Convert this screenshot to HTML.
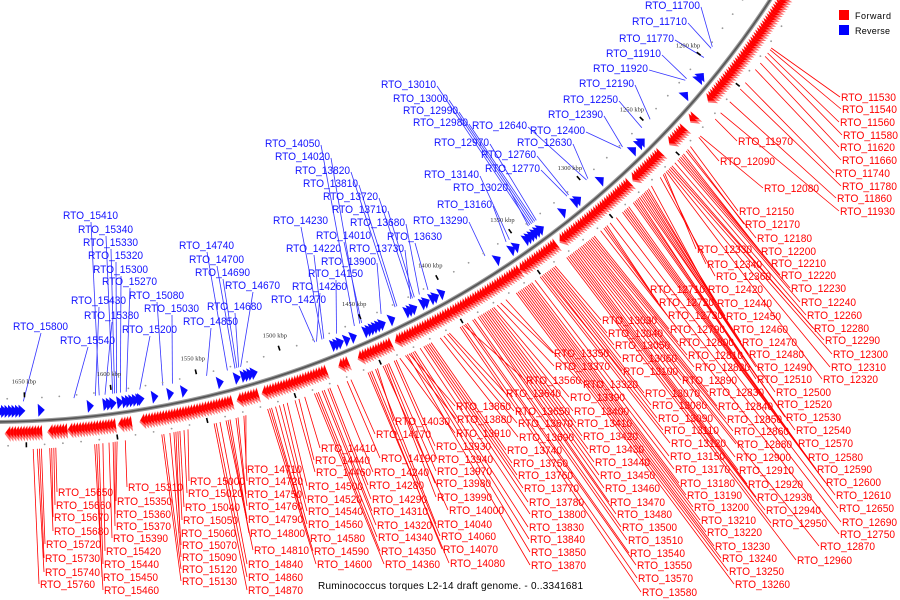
<!DOCTYPE html>
<html><head><meta charset="utf-8"><title>Ruminococcus torques genome map</title>
<style>
html,body{margin:0;padding:0;background:#fff;}
svg{display:block;}
</style></head>
<body>
<svg id="map" xmlns="http://www.w3.org/2000/svg" width="900" height="600" viewBox="0 0 900 600">
  <rect x="0" y="0" width="900" height="600" fill="#fff"/>
  <g id="leaders"></g>
  <g id="dots"></g>
  <g id="genes"></g>
  <g id="backbone"></g>
  <g id="labels"></g>
  <g>
    <rect x="839" y="10" width="10" height="10" fill="#f00"/>
    <text x="855" y="19" font-family="Liberation Sans, sans-serif" font-size="9" textLength="36" fill="#000">Forward</text>
    <rect x="839" y="25" width="10" height="10" fill="#00f"/>
    <text x="855" y="34" font-family="Liberation Sans, sans-serif" font-size="9" textLength="35" fill="#000">Reverse</text>
  </g>
  <text x="318" y="589" font-family="Liberation Sans, sans-serif" font-size="10" textLength="265" fill="#000">Ruminococcus torques L2-14 draft genome. - 0..3341681</text>
</svg>
<script>
// ---- data ----
const forwardBlocks = [[1141,1215],[1228,1230],[1237,1248],[1256,1276],[1280,1329],[1333,1356],[1358,1402],[1403,1436],[1440,1458],[1466,1470],[1479,1515],[1519,1530],[1534,1585],[1591,1597],[1600,1625],[1627,1636],[1641,1660]];
const reverseGenes = [1664,1662,1660,1658,1656,1654,1652,1641,1613,1604,1602,1600,1596,1593,1591,1589,1587,1585,1584,1576,1567,1559,1538,1528,1524,1522,1520,1518,1470,1468,1466,1462,1458,1450,1448,1446,1444,1442,1440,1434,1424,1422,1420,1414,1412,1408,1406,1402,1365,1355,1352,1345,1343,1341,1339,1337,1335,1319,1310,1308,1291,1266,1261,1259,1223,1211,1209];
const tickKbp = [1200,1250,1300,1350,1400,1450,1500,1550,1600,1650];
const tickLabels = ["1200 kbp","1250 kbp","1300 kbp","1350 kbp","1400 kbp","1450 kbp","1500 kbp","1550 kbp","1600 kbp","1650 kbp"];
const redLabelText = "11530 841 97;11540 842 109;11560 840 122;11580 843 135;11620 840 147;11660 842 160;11740 835 173;11780 842 186;11860 837 198;11930 840 211;11970 738 141;12090 720 161;12080 764 188;12150 739 211;12170 745 224;12180 757 238;12200 761 251;12210 771 263;12220 781 275;12230 791 288;12240 801 302;12260 807 315;12280 814 328;12290 825 340;12300 833 354;12310 831 367;12320 823 379;12330 697 249;12340 707 264;12360 716 276;12420 708 289;12440 717 303;12450 726 316;12460 733 329;12470 742 342;12480 749 354;12490 757 367;12510 757 379;12500 776 392;12520 777 404;12530 786 417;12540 796 430;12570 798 443;12580 808 457;12590 817 469;12600 826 482;12610 836 495;12650 839 508;12690 842 522;12750 840 534;12870 820 546;12960 797 560;12710 650 289;12720 659 302;12730 668 315;12790 670 329;12800 679 342;12810 688 355;12820 695 367;12890 682 380;12830 709 392;12840 718 406;12850 727 419;12860 734 431;12880 737 444;12900 736 457;12910 739 470;12920 748 484;12930 757 497;12940 766 510;12950 772 523;13030 602 320;13040 608 333;13050 615 345;13060 622 358;13100 623 371;13070 645 393;13080 652 405;13090 658 418;13110 664 430;13120 671 443;13150 670 456;13170 675 469;13180 680 483;13190 687 495;13200 694 507;13210 701 520;13220 707 532;13230 715 546;13240 722 558;13250 729 571;13260 735 584;13350 554 353;13370 555 366;13560 526 380;13320 583 384;13640 506 393;13390 570 397;13650 515 411;13400 574 411;13670 518 423;13410 577 423;13690 519 437;13420 583 436;13740 507 450;13430 589 449;13750 513 463;13440 595 462;13760 518 475;13450 600 475;13770 524 488;13460 605 488;13780 529 502;13470 610 502;13800 531 514;13480 617 514;13830 529 527;13500 622 527;13840 530 539;13510 628 540;13850 531 552;13540 630 553;13870 531 565;13550 637 565;13570 638 578;13580 642 592;13860 456 406;13880 457 419;13910 456 433;13930 436 446;13940 438 459;13970 437 471;13980 436 483;13990 437 497;14000 449 510;14040 437 524;14060 441 536;14070 443 549;14080 450 563;14030 395 421;14170 376 434;14190 381 458;14240 374 472;14280 369 485;14290 372 499;14310 373 511;14320 377 525;14340 378 537;14350 381 551;14360 385 564;14410 321 448;14440 315 460;14460 316 472;14500 308 486;14520 307 499;14540 308 511;14560 308 524;14580 310 538;14590 314 551;14600 317 564;14710 247 469;14720 248 481;14750 247 494;14760 248 506;14790 248 519;14800 250 533;14810 254 550;14840 248 564;14860 248 577;14870 248 590;15000 190 481;15020 188 493;15040 185 507;15050 183 520;15060 181 533;15070 182 545;15090 182 557;15120 182 569;15130 182 581;15310 128 487;15350 117 501;15360 116 514;15370 116 526;15390 113 538;15420 106 551;15440 104 564;15450 103 577;15460 104 590;15650 58 492;15660 56 505;15670 54 517;15680 54 531;15720 46 544;15730 45 558;15740 45 572;15760 40 584";
const blueLabelText = "11700 645 5;11710 632 21;11770 619 38;11910 606 53;11920 593 68;12190 579 83;12250 563 99;12390 548 114;12400 530 130;12630 517 142;12640 472 125;12760 481 154;12770 485 168;13010 381 84;13000 393 98;12990 403 110;12980 413 122;12970 434 142;13140 424 174;13020 453 187;13160 437 204;13290 413 220;13630 387 236;13680 350 222;13710 332 209;13720 323 196;13810 303 183;13820 295 170;14050 265 143;14020 275 156;14230 273 220;14010 316 235;14220 286 248;13730 349 248;13900 321 261;14150 308 273;14260 292 286;14270 271 299;14740 179 245;14700 189 259;14690 195 272;14670 225 285;14680 207 306;14850 183 321;15080 129 295;15030 144 308;15200 122 329;15410 63 215;15340 78 229;15330 83 242;15320 88 255;15300 93 269;15270 102 281;15430 71 300;15380 84 315;15800 13 326;15540 60 340";

// ---- geometry ----
const NS = "http://www.w3.org/2000/svg";
const R = 932, CX = -10, CY = -510;
function ang(k){ return (38.5 + (k - 1200) * 0.1096) * Math.PI / 180; }
function P(k, r){ const a = ang(k); return [CX + r * Math.cos(a), CY + r * Math.sin(a)]; }
function pts(list){ return list.map(p => p[0].toFixed(1) + "," + p[1].toFixed(1)).join(" "); }
function geneKbp(n){ return 1173 + (n - 11530) * 0.1119; }
function mk(tag, parent){ const e = document.createElementNS(NS, tag); parent.appendChild(e); return e; }

const gGenes = document.getElementById("genes");
const gLead = document.getElementById("leaders");
const gDots = document.getElementById("dots");
const gBack = document.getElementById("backbone");
const gLab = document.getElementById("labels");

// backbone arc
const a0 = P(1120, R), a1 = P(1685, R);
const arcD = "M" + a0[0].toFixed(1) + "," + a0[1].toFixed(1) + " A" + R + "," + R + " 0 0 1 " + a1[0].toFixed(1) + "," + a1[1].toFixed(1);
const arcOuter = mk("path", gBack);


arcOuter.setAttribute("d", arcD); arcOuter.setAttribute("fill", "none");
arcOuter.setAttribute("stroke", "#9a9a9a"); arcOuter.setAttribute("stroke-width", "4");
const arcInner = mk("path", gBack);


arcInner.setAttribute("d", arcD); arcInner.setAttribute("fill", "none");
arcInner.setAttribute("stroke", "#555"); arcInner.setAttribute("stroke-width", "1.6");

// scale dots & ticks
for (let k = 1120; k <= 1680; k += 10) {
  if (k % 50 === 0) continue;
  [R - 23, R + 24].forEach(r => {
    const p = P(k, r);
    const c = mk("circle", gDots);
    
    
    c.setAttribute("cx", p[0].toFixed(1)); c.setAttribute("cy", p[1].toFixed(1));
    c.setAttribute("r", "0.9"); c.setAttribute("fill", "#999");
  });
}
tickKbp.forEach((k, i) => {
  [[R - 29, R - 24], [R + 21, R + 26]].forEach(rr => {
    const p = P(k, rr[0]), q = P(k, rr[1]);
    const l = mk("line", gDots);
    
    
    l.setAttribute("x1", p[0].toFixed(1)); l.setAttribute("y1", p[1].toFixed(1));
    l.setAttribute("x2", q[0].toFixed(1)); l.setAttribute("y2", q[1].toFixed(1));
    l.setAttribute("stroke", "#000"); l.setAttribute("stroke-width", "1.6");
  });
  const tp = P(k, R - 40);
  const t = mk("text", gDots);
  
  
  t.setAttribute("x", tp[0].toFixed(1)); t.setAttribute("y", (tp[1] + 2).toFixed(1));
  t.setAttribute("text-anchor", "middle");
  t.setAttribute("font-family", "Liberation Serif, serif");
  t.setAttribute("font-size", "6.5"); t.setAttribute("fill", "#333");
  t.textContent = tickLabels[i];
});

// forward genes (red, outside)
forwardBlocks.forEach(b => {
  for (let k = b[0]; k <= b[1]; k += 1.6) {
    const tip = k + 3.2;
    const outer = mk("polygon", gGenes);
    
    
    outer.setAttribute("points", pts([P(k, R + 4), P(k, R + 20), P(tip, R + 12)]));
    outer.setAttribute("fill", "#ff7070");
    const inner = mk("polygon", gGenes);
    
    
    inner.setAttribute("points", pts([P(k, R + 5), P(k, R + 16), P(tip - 0.6, R + 10.5)]));
    inner.setAttribute("fill", "#f00");
  }
});

// reverse genes (blue, inside)
reverseGenes.forEach(k => {
  const g = mk("polygon", gGenes);
  
  
  g.setAttribute("points", pts([P(k + 1.6, R - 4), P(k + 1.6, R - 17), P(k - 2.2, R - 10.5)]));
  g.setAttribute("fill", "#0a0aff");
});

// labels
function parse(s){ return s.split(";").map(t => t.trim().split(" ").map(Number)); }
const W = 55;
parse(redLabelText).forEach(a => {
  const n = a[0], x = a[1], y = a[2];
  const g = P(geneKbp(n), R + 28);
  const l = mk("line", gLead);
  
  
  l.setAttribute("x1", g[0].toFixed(1)); l.setAttribute("y1", g[1].toFixed(1));
  l.setAttribute("x2", x - 1); l.setAttribute("y2", y);
  l.setAttribute("stroke", "#f00"); l.setAttribute("stroke-width", "0.8");
  const t = mk("text", gLab);
  
  
  t.setAttribute("x", x); t.setAttribute("y", y + 4);
  t.setAttribute("font-family", "Liberation Sans, sans-serif");
  t.setAttribute("font-size", "11"); t.setAttribute("fill", "#f00");
  t.setAttribute("textLength", W); t.setAttribute("lengthAdjust", "spacingAndGlyphs");
  t.textContent = "RTO_" + n;
});
parse(blueLabelText).forEach(a => {
  const n = a[0], x = a[1], y = a[2];
  const g = P(geneKbp(n), R - 20);
  let ax, ay;
  if (g[0] > x + W + 5) { ax = x + W + 1; ay = y + 2; } else { ax = x + 28; ay = y + 7; }
  const l = mk("line", gLead);
  
  
  l.setAttribute("x1", g[0].toFixed(1)); l.setAttribute("y1", g[1].toFixed(1));
  l.setAttribute("x2", ax); l.setAttribute("y2", ay);
  l.setAttribute("stroke", "#3333ff"); l.setAttribute("stroke-width", "0.8");
  const t = mk("text", gLab);
  
  
  t.setAttribute("x", x); t.setAttribute("y", y + 4);
  t.setAttribute("font-family", "Liberation Sans, sans-serif");
  t.setAttribute("font-size", "11"); t.setAttribute("fill", "#1212ff");
  t.setAttribute("textLength", W); t.setAttribute("lengthAdjust", "spacingAndGlyphs");
  t.textContent = "RTO_" + n;
});
</script>
</body></html>
